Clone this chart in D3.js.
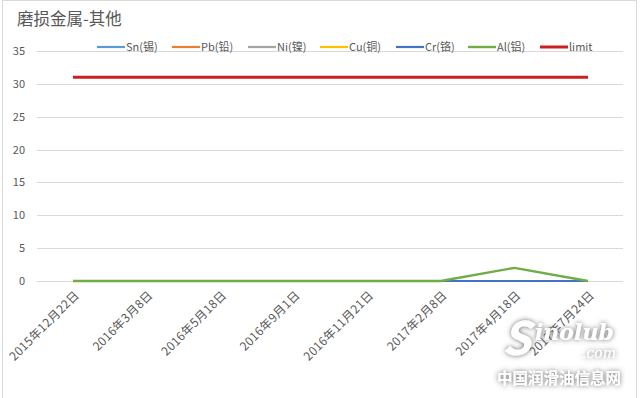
<!DOCTYPE html>
<html>
<head>
<meta charset="utf-8">
<script src="https://cdn.jsdelivr.net/npm/d3@7/dist/d3.min.js"></script>
<style>
  html, body { margin: 0; padding: 0; background: #fff; }
  svg { display: block; }
</style>
</head>
<body>
<div id="chart"></div>
<script>
/* 磨损金属-其他 — 折线图 */
var dates  = ['2015年12月22日', '2016年3月8日', '2016年5月18日', '2016年9月1日',
              '2016年11月21日', '2017年2月8日', '2017年4月18日', '2017年7月24日'];
var sn     = [0, 0, 0, 0, 0, 0, 0, 0];
var pb     = [0, 0, 0, 0, 0, 0, 0, 0];
var ni     = [0, 0, 0, 0, 0, 0, 0, 0];
var cu     = [0, 0, 0, 0, 0, 0, 0, 0];
var cr     = [0, 0, 0, 0, 0, 0, 0, 0];
var al     = [0, 0, 0, 0, 0, 0, 2, 0];
var limit  = [31, 31, 31, 31, 31, 31, 31, 31];
var yTicks = [0, 5, 10, 15, 20, 25, 30, 35];

var series = [
  { name: 'Sn(锡)', values: sn,    color: '#5B9BD5', w: 2.2 },
  { name: 'Pb(铅)', values: pb,    color: '#ED7D31', w: 2.2 },
  { name: 'Ni(镍)', values: ni,    color: '#A5A5A5', w: 2.2 },
  { name: 'Cu(铜)', values: cu,    color: '#FFC000', w: 2.2 },
  { name: 'Cr(铬)', values: cr,    color: '#4472C4', w: 2.2 },
  { name: 'Al(铝)', values: al,    color: '#70AD47', w: 2.4 },
  { name: 'limit',  values: limit, color: '#CC1F1F', w: 3 }
];

var W = 640, H = 398;
var font = '"Microsoft YaHei", "Noto Sans CJK SC", "Noto Sans", sans-serif';
var txt = '#595959';

var svg = d3.select('#chart').append('svg').attr('width', W).attr('height', H);

/* 边框 */
svg.append('rect').attr('x', 2.5).attr('y', 0.5).attr('width', 634).attr('height', 400)
  .attr('fill', '#fff').attr('stroke', '#d9d9d9').attr('stroke-width', 1);

/* 标题 */
svg.append('text').text('磨损金属-其他')
  .attr('x', 17).attr('y', 25)
  .attr('font-family', font).attr('font-size', 16.5).attr('fill', txt);

/* --- 比例尺 ---------------------------------------------------------- */
var x = d3.scalePoint().domain(d3.range(dates.length)).range([73, 588]);
var y = d3.scaleLinear().domain([0, 35]).range([281, 51]);

/* 网格线 */
svg.append('g').selectAll('line').data(yTicks).join('line')
  .attr('x1', 37).attr('x2', 623)
  .attr('y1', function (d) { return Math.round(y(d)) + 0.5; })
  .attr('y2', function (d) { return Math.round(y(d)) + 0.5; })
  .attr('stroke', '#d9d9d9').attr('stroke-width', 1);

/* y 轴刻度 */
svg.append('g').selectAll('text').data(yTicks).join('text')
  .text(function (d) { return d; })
  .attr('x', 25).attr('y', function (d) { return y(d) + 4; })
  .attr('text-anchor', 'end')
  .attr('font-family', font).attr('font-size', 11).attr('fill', txt);

/* x 轴标签 (旋转 -45°) */
svg.append('g').selectAll('text').data(dates).join('text')
  .text(function (d) { return d; })
  .attr('transform', function (d, i) { return 'translate(' + (x(i) + 1) + ',' + 290 + ') rotate(-45)'; })
  .attr('text-anchor', 'end')
  .attr('dy', '0.7em')
  .attr('letter-spacing', 0.3)
  .attr('font-family', font).attr('font-size', 12).attr('fill', txt);

/* --- 折线 ------------------------------------------------------------ */
var line = d3.line()
  .x(function (d, i) { return x(i); })
  .y(function (d) { return y(d); });

svg.append('g').selectAll('path').data(series).join('path')
  .attr('d', function (s) { return line(s.values); })
  .attr('fill', 'none')
  .attr('stroke', function (s) { return s.color; })
  .attr('stroke-width', function (s) { return s.w; })
  .attr('stroke-linejoin', 'round');

/* --- 图例 ------------------------------------------------------------ */
var legX = [97, 172, 248, 320, 396, 468, 540];
var leg = svg.append('g').selectAll('g').data(series).join('g')
  .attr('transform', function (s, i) { return 'translate(' + legX[i] + ',47)'; });
leg.append('line')
  .attr('x1', 0).attr('x2', 28).attr('y1', 0).attr('y2', 0)
  .attr('stroke', function (s) { return s.color; })
  .attr('stroke-width', function (s) { return s.w; });
leg.append('text').text(function (s) { return s.name; })
  .attr('x', 29).attr('y', 4)
  .attr('font-family', font).attr('font-size', 11).attr('fill', txt);

/* --- 水印 ------------------------------------------------------------ */
var defs = svg.append('defs');
var f = defs.append('filter').attr('id', 'wm').attr('x', '-20%').attr('y', '-20%')
  .attr('width', '140%').attr('height', '140%');
f.append('feDropShadow').attr('dx', 0).attr('dy', 0).attr('stdDeviation', 2.5)
  .attr('flood-color', '#555').attr('flood-opacity', 0.9);
var wm = svg.append('g').attr('filter', 'url(#wm)').attr('fill', '#fff')
  .attr('font-family', font);
wm.append('text').text('S').attr('x', 502).attr('y', 355)
  .attr('font-size', 46).attr('font-weight', 700).attr('font-style', 'italic');
wm.append('text').text('inolub').attr('x', 535).attr('y', 340)
  .attr('font-size', 22).attr('font-weight', 700).attr('font-style', 'italic')
  .attr('font-family', 'DejaVu Serif, serif');
wm.append('text').text('.com').attr('x', 582).attr('y', 358)
  .attr('font-size', 14).attr('font-style', 'italic').attr('font-family', 'DejaVu Serif, serif');
wm.append('text').text('中国润滑油信息网').attr('x', 497).attr('y', 384)
  .attr('font-size', 15.5).attr('font-weight', 700);
</script>
</body>
</html>
